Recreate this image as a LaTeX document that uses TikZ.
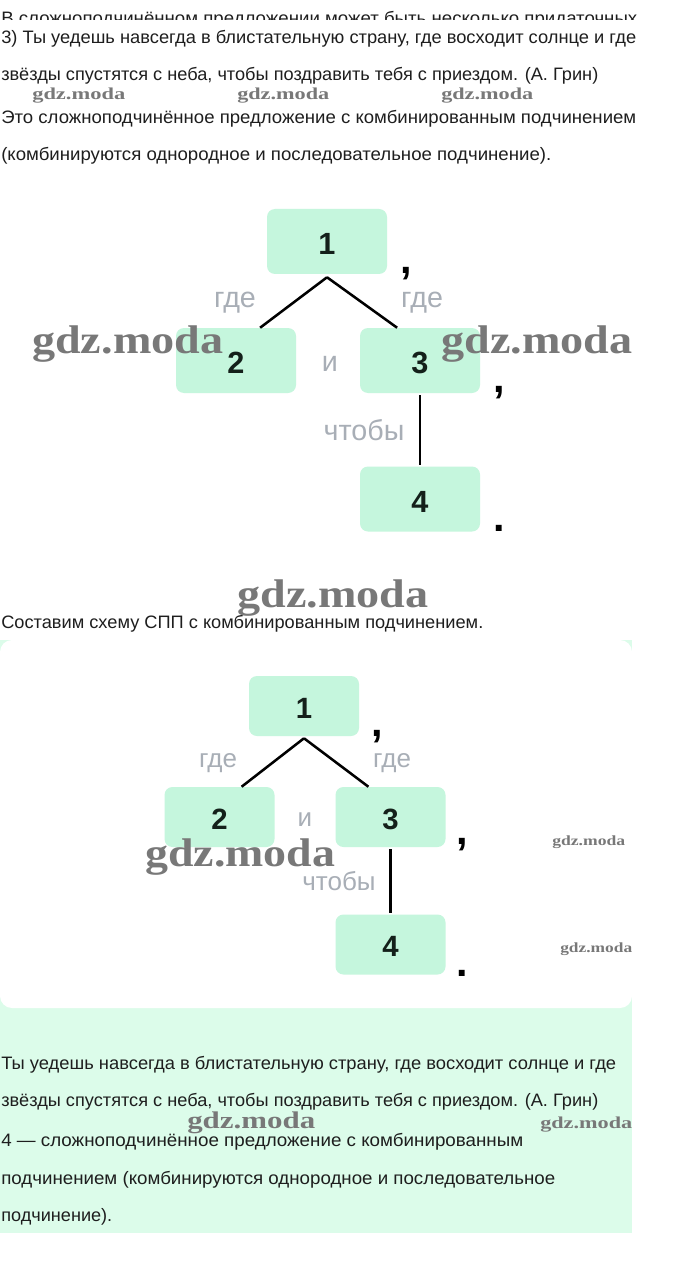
\documentclass[tikz,border=0pt]{standalone}
\usepackage{fontspec}
\setmainfont{Liberation Sans}
\newfontfamily\wmfont{Liberation Serif}
\usetikzlibrary{calc}
\newlength\px \setlength\px{0.75pt}
\definecolor{boxgreen}{RGB}{197,246,221}
\definecolor{panelgreen}{RGB}{220,252,234}
\definecolor{labelgray}{RGB}{168,174,182}
\definecolor{bodytext}{RGB}{30,30,30}
\definecolor{wmgray}{RGB}{120,120,120}
\definecolor{digitcol}{RGB}{20,32,26}
\newcommand\fitline[2]{\resizebox{#1\px}{\height}{#2}}
\begin{document}
\begin{tikzpicture}[x=0.75pt,y=-0.75pt,
  bodyline/.style={anchor=base west,inner sep=0pt,text=bodytext,font=\fontsize{13.5}{16}\selectfont},
  clause/.style={rectangle,rounded corners=6pt,fill=boxgreen,inner sep=0pt,minimum width=90pt,minimum height=48.75pt,text height=19.5pt,text depth=0pt,text=digitcol,font=\bfseries\fontsize{23}{25}\selectfont},
  clausesmall/.style={clause,minimum width=82.5pt,minimum height=45pt,text height=18.5pt,font=\bfseries\fontsize{22}{24}\selectfont},
  conj/.style={anchor=base,inner sep=0pt,text=labelgray,font=\fontsize{21.5}{23}\selectfont},
  conjsmall/.style={conj,font=\fontsize{19.5}{21}\selectfont},
  punct/.style={inner sep=0pt,text=black,font=\bfseries\fontsize{31}{32}\selectfont},
  link/.style={line width=1.9pt,draw=black},
  wm/.style={anchor=base west,inner sep=0pt,text=wmgray},
  wmbig/.style={wm,font=\wmfont\bfseries\fontsize{30}{32}\selectfont},
  wmmid/.style={wm,font=\wmfont\bfseries\fontsize{18}{20}\selectfont},
  wmsmall/.style={wm,font=\wmfont\bfseries\fontsize{12.5}{14}\selectfont},
  wmtiny/.style={wm,font=\wmfont\bfseries\fontsize{10.5}{12}\selectfont}]
\useasboundingbox (0,0) rectangle (680,1269);
\fill[white] (0,0) rectangle (680,1269);
% green panel and white card
\fill[panelgreen] (0,640) rectangle (632,1233);
\fill[white,rounded corners=9pt] (0,640) rectangle (632,1008);

% clipped top line
\begin{scope}
\clip (0,0) rectangle (680,20);
\node[bodyline] (t0) at (1,25) {\fitline{636}{В сложноподчинённом предложении может быть несколько придаточных}};
\end{scope}

\node[bodyline] (t1) at (1,44) {\fitline{635}{3) Ты уедешь навсегда в блистательную страну, где восходит солнце и где}};
\node[bodyline] (t2) at (1,81) {\fitline{597}{звёзды спустятся с неба, чтобы поздравить тебя с приездом. (А. Грин)}};
\node[bodyline] (t3) at (1,124) {\fitline{635}{Это сложноподчинённое предложение с комбинированным подчинением}};
\node[bodyline] (t4) at (1,161) {\fitline{550}{(комбинируются однородное и последовательное подчинение).}};

% ---------- diagram 1 ----------
\node[clause] (a1) at (327,241.5) {1};
\node[clause] (a2) at (236,360.5) {2};
\node[clause] (a3) at (420,360.5) {3};
\node[clause] (a4) at (420,499) {4};
\coordinate (ap1) at ($(a1.south)+(0,3)$);
\draw[link] (ap1) -- ($(a2.north west)!0.70!(a2.north east)$);
\draw[link] (ap1) -- ($(a3.north west)!0.31!(a3.north east)$);
\draw[link] ($(a3.south)+(0,2)$) -- ($(a4.north)+(0,-1)$);
\node[conj] (ag1) at (235,307) {где};
\node[conj] (ag2) at (422,307) {где};
\node[conj] (ai) at (330,371) {и};
\node[conj] (ach) at (364,440) {чтобы};
\node[punct] (ac1) at (406,274) {,};
\node[punct] (ac2) at (499,393) {,};
\node[punct] (ap) at (499,528) {.};

\node[bodyline] (t5) at (1,628) {\fitline{482}{Составим схему СПП с комбинированным подчинением.}};

% ---------- diagram 2 ----------
\node[clausesmall] (b1) at (304,706) {1};
\node[clausesmall] (b2) at (219.5,817) {2};
\node[clausesmall] (b3) at (390.5,817) {3};
\node[clausesmall] (b4) at (390.5,944.5) {4};
\coordinate (ap2) at ($(b1.south)+(0,2)$);
\draw[link] (ap2) -- ($(b2.north west)!0.70!(b2.north east)$);
\draw[link] (ap2) -- ($(b3.north west)!0.30!(b3.north east)$);
\draw[link] ($(b3.south)+(0,2)$) -- ($(b4.north)+(0,-1)$);
\node[conjsmall] (bg1) at (218,767) {где};
\node[conjsmall] (bg2) at (392,767) {где};
\node[conjsmall] (bi) at (305,826) {и};
\node[conjsmall] (bch) at (339,890) {чтобы};
\node[punct] (bc1) at (377,737) {,};
\node[punct] (bc2) at (462,845) {,};
\node[punct] (bp) at (462,973) {.};

% panel text
\node[bodyline] (p1) at (1,1069) {\fitline{615}{Ты уедешь навсегда в блистательную страну, где восходит солнце и где}};
\node[bodyline] (p2) at (1,1106) {\fitline{597}{звёзды спустятся с неба, чтобы поздравить тебя с приездом. (А. Грин)}};
\node[bodyline] (p3) at (1,1146) {\fitline{522}{4 — сложноподчинённое предложение с комбинированным}};
\node[bodyline] (p4) at (1,1184) {\fitline{554}{подчинением (комбинируются однородное и последовательное}};
\node[bodyline] (p5) at (1,1221) {\fitline{111}{подчинение).}};

% ---------- watermarks ----------
\node[wmsmall] (w1) at (32,100) {\fitline{93}{gdz.moda}};
\node[wmsmall] (w2) at (237,100) {\fitline{92}{gdz.moda}};
\node[wmsmall] (w3) at (441,100) {\fitline{92}{gdz.moda}};
\node[wmbig] (w4) at (32,353) {\fitline{191}{gdz.moda}};
\node[wmbig] (w5) at (441,353) {\fitline{191}{gdz.moda}};
\node[wmbig] (w6) at (237,607) {\fitline{191}{gdz.moda}};
\node[wmbig] (w7) at (145,866) {\fitline{190}{gdz.moda}};
\node[wmtiny] (w8) at (552,845) {\fitline{73}{gdz.moda}};
\node[wmtiny] (w9) at (560,952) {\fitline{72}{gdz.moda}};
\node[wmmid] (w10) at (187,1128) {\fitline{128}{gdz.moda}};
\node[wmsmall] (w11) at (540,1128) {\fitline{92}{gdz.moda}};
\end{tikzpicture}
\end{document}
